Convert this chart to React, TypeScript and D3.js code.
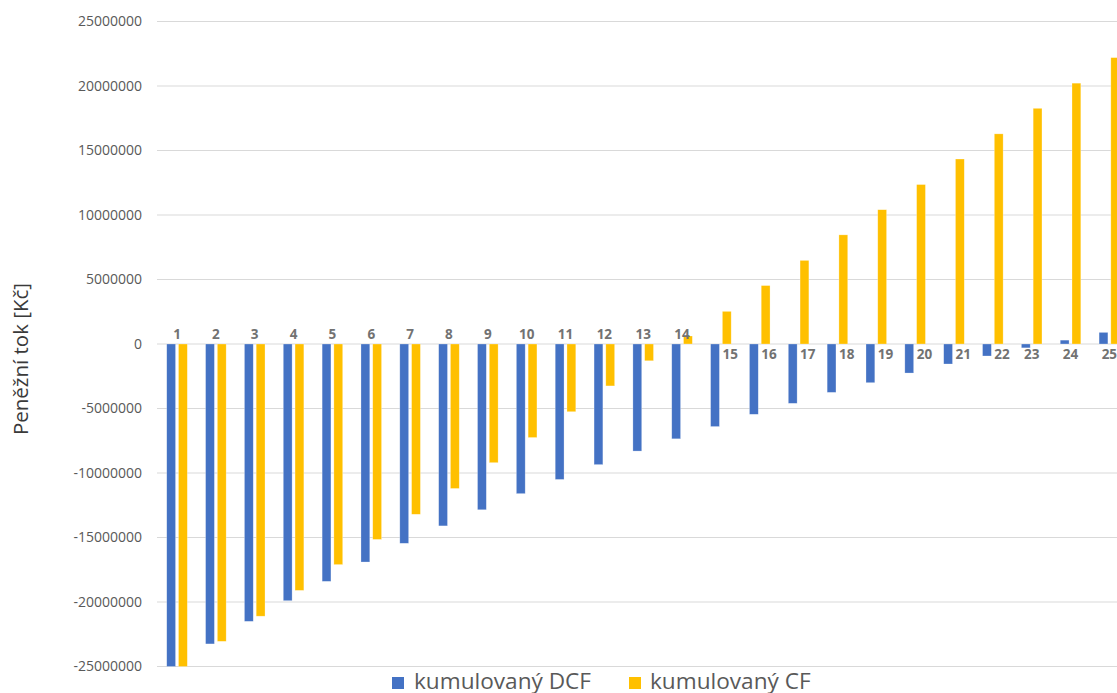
import * as d3 from 'd3';

const years = ['1', '2', '3', '4', '5', '6', '7', '8', '9', '10', '11', '12', '13', '14', '15', '16', '17', '18', '19', '20', '21', '22', '23', '24', '25'];

const cumulativeDCF = [
  -25100000, -23250000, -21500000, -19900000, -18400000, -16900000, -15450000, -14100000, -12850000, -11600000,
  -10500000, -9350000, -8300000, -7350000, -6400000, -5450000, -4600000, -3750000, -3000000, -2250000,
  -1550000, -930000, -300000, 300000, 900000,
];

const cumulativeCF = [
  -25000000, -23050000, -21100000, -19100000, -17100000, -15150000, -13200000, -11200000, -9200000, -7250000,
  -5250000, -3250000, -1300000, 620000, 2530000, 4530000, 6480000, 8460000, 10410000, 12360000,
  14340000, 16290000, 18270000, 20220000, 22200000,
];

const yTicks = [25000000, 20000000, 15000000, 10000000, 5000000, 0, -5000000, -10000000, -15000000, -20000000, -25000000];

const seriesNames = ['kumulovaný DCF', 'kumulovaný CF'];
const seriesColors = ['#4472C4', '#FFC000'];
const yTitle = 'Peněžní tok [Kč]';

export default function App(): JSX.Element {
  const width = 1117;
  const height = 693;
  const plotLeft = 157;
  const plotRight = 1130;

  // category scale, the plot runs past the right edge of the picture
  const x0 = d3.scaleBand<string>().domain(years).range([157.6, 1128.8]).paddingInner(0.47).paddingOuter(0.235);
  const x1 = d3.scaleBand<number>().domain([0, 1]).range([0, x0.bandwidth()]).paddingInner(0.25);
  const y = d3.scaleLinear().domain([-25000000, 25000000]).range([666.5, 21.5]).clamp(true);

  const series = [cumulativeDCF, cumulativeCF];
  const font = '"Open Sans", sans-serif';

  return (
    <div style={{ position: 'absolute', left: 0, top: 0, width, height, overflow: 'hidden', background: '#fff' }}>
      <svg width={width} height={height} style={{ display: 'block' }}>
        {/* grid */}
        <g>
          {yTicks.map((t) => (
            <line key={t} x1={plotLeft} x2={plotRight} y1={y(t)} y2={y(t)} stroke="#d9d9d9" strokeWidth={1} />
          ))}
        </g>

        {/* y tick labels */}
        <g fontFamily={font} fontSize={14} fill="#595959" textAnchor="end">
          {yTicks.map((t) => (
            <text key={t} x={142} y={y(t)} dy="0.35em">
              {t}
            </text>
          ))}
        </g>

        {/* bars */}
        {series.map((values, si) => (
          <g key={si} fill={seriesColors[si]}>
            {values.map((v, i) => {
              const yv = y(v);
              const y0 = y(0);
              return (
                <rect
                  key={i}
                  x={(x0(years[i]) ?? 0) + (x1(si) ?? 0)}
                  y={Math.min(yv, y0)}
                  width={x1.bandwidth()}
                  height={Math.abs(yv - y0)}
                  stroke="#ffffff"
                  strokeOpacity={0.45}
                  strokeWidth={0.6}
                />
              );
            })}
          </g>
        ))}

        {/* category labels */}
        <g fontFamily={font} fontSize={13.5} fontWeight="bold" fill="#727272">
          {years.map((label, i) => {
            const c = (x0(label) ?? 0) + x0.bandwidth() / 2;
            if (cumulativeCF[i] <= 1000000) {
              return (
                <text key={label} x={c} y={y(0) - 5} textAnchor="middle">
                  {label}
                </text>
              );
            }
            const blueBottom = y(cumulativeDCF[i]);
            if (cumulativeDCF[i] < 0 && blueBottom > y(0) + 5) {
              const blueRight = (x0(label) ?? 0) + (x1(0) ?? 0) + x1.bandwidth();
              return (
                <text key={label} x={blueRight + 3} y={y(0) + 15} textAnchor="start">
                  {label}
                </text>
              );
            }
            return (
              <text key={label} x={c} y={y(0) + 15} textAnchor="middle">
                {label}
              </text>
            );
          })}
        </g>

        {/* y axis title */}
        <text
          transform="translate(28,359) rotate(-90)"
          textAnchor="middle"
          fontFamily={font}
          fontSize={20.5}
          fill="#3a3a3a"
        >
          {yTitle}
        </text>

        {/* legend */}
        <g fontFamily={font} fontSize={22.6} fill="#595959">
          <rect x={392} y={677} width={12} height={12} fill={seriesColors[0]} />
          <text x={414} y={689}>
            {seriesNames[0]}
          </text>
          <rect x={629} y={677} width={12} height={12} fill={seriesColors[1]} />
          <text x={650} y={689}>
            {seriesNames[1]}
          </text>
        </g>
      </svg>
    </div>
  );
}
